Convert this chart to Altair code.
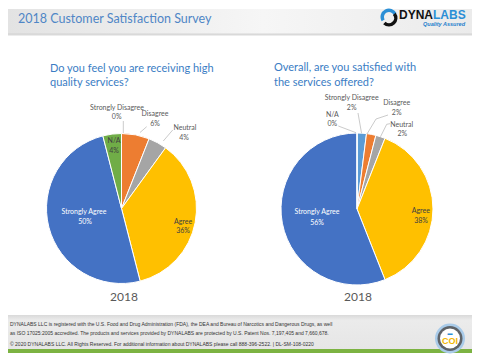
import altair as alt
import pandas as pd

# ---------------- data ----------------
categories = ["Strongly Disagree", "Disagree", "Neutral", "Agree", "Strongly Agree", "N/A"]
colors = ["#5B9BD5", "#ED7D31", "#A5A5A5", "#FFC000", "#4472C4", "#70AD47"]
q1_values = [0, 6, 4, 36, 50, 4]
q2_values = [2, 2, 2, 38, 56, 0]
q1_title = ["Do you feel you are receiving high", "quality services?"]
q2_title = ["Overall, are you satisfied with", "the services offered?"]
year_label = "2018"
header_title = "2018 Customer Satisfaction Survey"
footer_lines = [
    "DYNALABS LLC is registered with the U.S. Food and Drug Administration (FDA), the DEA and Bureau of Narcotics and Dangerous Drugs, as well",
    "as ISO 17025:2005 accredited. The products and services provided by DYNALABS are protected by U.S. Patent Nos. 7,197,405 and 7,660,678.",
    "\u00a9 2020 DYNALABS LLC.  All Rights Reserved.  For additional information about DYNALABS please call 888-396-2522. | DL-SM-108-0220",
]

W, H = 464, 344
FONT = "Lato"
one = alt.Data(values=[{"a": 1}])


def txt(x, y, s, size=7, color="#595959", align="center", font=FONT,
        weight="normal", style="normal", baseline="middle"):
    return alt.Chart(one).mark_text(
        text=s, fontSize=size, color=color, align=align, font=font,
        fontWeight=weight, fontStyle=style, baseline=baseline
    ).encode(x=alt.value(x), y=alt.value(y))


def rect(x, y, x2, y2, fill, opacity=1.0):
    return alt.Chart(one).mark_rect(fill=fill, opacity=opacity).encode(
        x=alt.value(x), x2=alt.value(x2), y=alt.value(y), y2=alt.value(y2))


def rule(x, y, x2, y2, color="#a6a6a6", w=0.6):
    return alt.Chart(one).mark_rule(color=color, strokeWidth=w).encode(
        x=alt.value(x), x2=alt.value(x2), y=alt.value(y), y2=alt.value(y2))


def circ(x, y, r, color):
    return alt.Chart(one).mark_circle(size=(2 * r) ** 2, color=color, opacity=1).encode(
        x=alt.value(x), y=alt.value(y))


def pie(values, cx, cy, r):
    df = pd.DataFrame({"category": categories, "value": values,
                       "order": list(range(len(categories)))})
    return alt.Chart(df).mark_arc(radius=r, stroke="white", strokeWidth=1).encode(
        theta=alt.Theta("value:Q", stack=True),
        color=alt.Color("category:N", scale=alt.Scale(domain=categories, range=colors),
                        legend=None),
        order=alt.Order("order:Q"),
        x=alt.value(cx), y=alt.value(cy),
    )


def pct(v):
    return f"{v}%"


layers = []

# header band
layers.append(rect(0, 0, W, 25, alt.LinearGradient(
    gradient="linear", x1=0, x2=1, y1=0, y2=0,
    stops=[alt.GradientStop(color="#e3e3e3", offset=0),
           alt.GradientStop(color="#f6f6f6", offset=0.55),
           alt.GradientStop(color="#ebebeb", offset=1)])))
layers.append(rect(0, 24.5, W, 26.5, "#c9c9c9", 0.7))
layers.append(txt(10, 10, header_title, size=12.5, color="#4F86C6", align="left"))

# logo
blue_arc = alt.Chart(one).mark_arc(radius=8.5, radius2=5, theta=4.2, theta2=7.4,
                                   color="#2B8FD6").encode(x=alt.value(381), y=alt.value(8))
black_arc = alt.Chart(one).mark_arc(radius=8.5, radius2=5, theta=0.9, theta2=3.9,
                                    color="#111111").encode(x=alt.value(381), y=alt.value(9))
layers += [blue_arc, black_arc]
layers.append(txt(425, 6, "DYNA", size=12, color="#111111", align="right",
                  font="Liberation Sans", weight="bold"))
layers.append(txt(425, 6, "LABS", size=12, color="#2B8FD6", align="left",
                  font="Liberation Sans", weight="bold"))
layers.append(txt(457, 15.3, "Quality Assured", size=5.5, color="#1F7FCC", align="right",
                  font="Liberation Sans", weight="bold", style="italic"))

# question titles
layers.append(txt(42, 60, q1_title[0], size=11, color="#3B7DC4", align="left"))
layers.append(txt(42, 74, q1_title[1], size=11, color="#3B7DC4", align="left"))
layers.append(txt(266, 59, q2_title[0], size=11, color="#3B7DC4", align="left"))
layers.append(txt(266, 74, q2_title[1], size=11, color="#3B7DC4", align="left"))

# pies
layers.append(pie(q1_values, 113.5, 199.5, 75))
layers.append(pie(q2_values, 349, 200, 76))

# left pie labels
lab = "#595959"
dark = "#404040"
layers += [
    rule(115.3, 112, 115.3, 124), rule(132, 123.5, 138.7, 117.7),
    rule(155.3, 132, 164.7, 121),
    txt(109, 98.7, categories[0], color=lab), txt(108.7, 107.7, pct(q1_values[0]), color=lab),
    txt(147, 104.7, categories[1], color=lab), txt(147, 114.7, pct(q1_values[1]), color=lab),
    txt(177, 118.7, categories[2], color=lab), txt(176, 128.7, pct(q1_values[2]), color=lab),
    txt(106, 132, categories[5], color=dark), txt(106, 142, pct(q1_values[5]), color=dark),
    txt(76, 203, categories[4], color="white"), txt(77, 212.7, pct(q1_values[4]), color="white"),
    txt(175, 212.7, categories[3], color=dark), txt(175, 222, pct(q1_values[3]), color=dark),
]

# right pie labels
layers += [
    rule(330.3, 117, 348, 123.7), rule(350, 104, 353.5, 124),
    rule(359, 125, 368, 110), rule(368, 110, 380, 106),
    rule(372.5, 127.7, 378.7, 115.3), rule(378.7, 115.3, 382, 114.7),
    txt(324.3, 106, categories[5], color=lab), txt(324.3, 115.3, pct(q2_values[5]), color=lab),
    txt(343.7, 89.3, categories[0], color=lab), txt(343.7, 99.3, pct(q2_values[0]), color=lab),
    txt(388.7, 93.7, categories[1], color=lab), txt(388.7, 103.7, pct(q2_values[1]), color=lab),
    txt(393.7, 116, categories[2], color=lab), txt(394.3, 125.3, pct(q2_values[2]), color=lab),
    txt(309, 203, categories[4], color="white"), txt(309, 213.7, pct(q2_values[4]), color="white"),
    txt(412.8, 202, categories[3], color=dark), txt(413, 212, pct(q2_values[3]), color=dark),
]

# year captions
layers.append(txt(116, 288, year_label, size=12, color="#595959"))
layers.append(txt(350, 288, year_label, size=12, color="#595959"))

# footer
layers.append(rect(0, 306, W, 340, alt.LinearGradient(
    gradient="linear", x1=0, x2=0, y1=0, y2=1,
    stops=[alt.GradientStop(color="#d9d9d9", offset=0),
           alt.GradientStop(color="#ebebeb", offset=0.15),
           alt.GradientStop(color="#e6e6e6", offset=1)])))
layers.append(rect(0, 340, W, H, "#7CB342"))
layers.append(txt(2, 315, footer_lines[0], size=5, color="#333333", align="left",
                  font="Liberation Sans"))
layers.append(txt(2, 323.5, footer_lines[1], size=5, color="#333333", align="left",
                  font="Liberation Sans"))
layers.append(txt(2, 335, footer_lines[2], size=5, color="#333333", align="left",
                  font="Liberation Sans"))

# badge
layers += [
    circ(442, 329.5, 15, "#a9cbe9"),
    circ(442, 329.5, 12.5, "#5f6368"),
    circ(442, 329.5, 10, "#ffffff"),
    txt(442, 332, "COI", size=9, color="#F2B705", font="Liberation Sans", weight="bold"),
    txt(442, 323.5, "\u25ac", size=5, color="#2B8FD6"),
]

chart = alt.layer(*layers).resolve_scale(theta="independent").properties(
    width=W, height=H, padding=0, background="white"
).configure_view(strokeWidth=0)

chart.save("out.html", embed_options={"renderer": "svg", "actions": False})
